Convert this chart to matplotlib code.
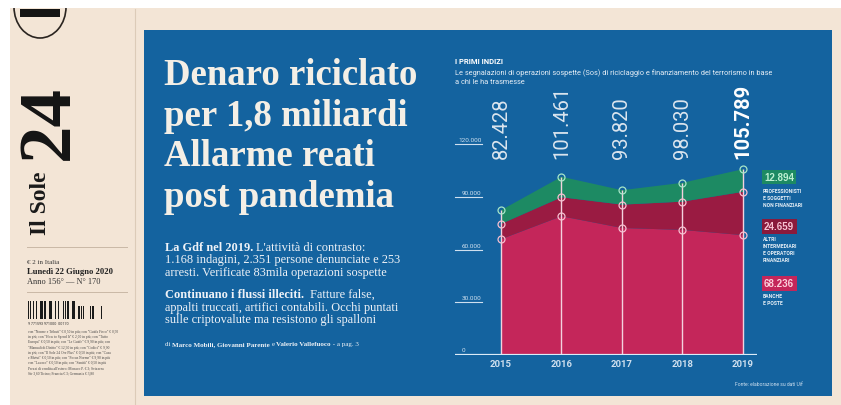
import matplotlib
matplotlib.use("Agg")
import matplotlib.pyplot as plt
from matplotlib.patches import Rectangle, Ellipse

# ---------------- data ----------------
years = [2015, 2016, 2017, 2018, 2019]
banche = [65900, 79000, 72300, 71200, 68236]
altri = [8700, 10800, 13300, 16100, 24659]
professionisti = [7828, 11661, 8220, 10730, 12894]
total_labels = ["82.428", "101.461", "93.820", "98.030", "105.789"]
yticks = [0, 30000, 60000, 90000, 120000]
ytick_labels = ["0", "30.000", "60.000", "90.000", "120.000"]
legend_values = ["12.894", "24.659", "68.236"]
legend_names = ["PROFESSIONISTI\nE SOGGETTI\nNON FINANZIARI",
                "ALTRI\nINTERMEDIARI\nE OPERATORI\nFINANZIARI",
                "BANCHE\nE POSTE"]

W, H = 841, 406
fig = plt.figure(figsize=(W / 100, H / 100), dpi=100)
fig.patch.set_facecolor("white")


def P(x, y):
    return (x / W, 1 - y / H)


def rect(x0, y0, x1, y1, **kw):
    fig.patches.append(Rectangle(P(x0, y1), (x1 - x0) / W, (y1 - y0) / H,
                                 transform=fig.transFigure, lw=0, **kw))


def line(x0, y0, x1, y1, **kw):
    fig.add_artist(plt.Line2D([x0 / W, x1 / W], [1 - y0 / H, 1 - y1 / H],
                              transform=fig.transFigure, **kw))


def txt(x, y, s, **kw):
    return fig.text(x / W, 1 - y / H, s, **kw)


BEIGE = "#f3e5d6"
BLUE = "#14639f"
SERIF = ["Liberation Serif", "DejaVu Serif"]
SANS = ["Roboto", "DejaVu Sans"]

# page
rect(10, 9, 841, 406, color=BEIGE, zorder=0)
line(135, 10, 135, 406, color="#dccbb8", lw=0.8)
rect(144, 31, 832, 397, color=BLUE, zorder=1)

# masthead (rotated)
txt(40, 203, "Il Sole", rotation=90, ha="center", va="center",
    family=SERIF, weight="bold", fontsize=17, color="#1a1a1a")
txt(50, 123, "24", rotation=90, ha="center", va="center",
    family=SERIF, weight="bold", fontsize=54, color="#141414")
fig.patches.append(Ellipse(P(40, 8), 52 / W, 62 / H, transform=fig.transFigure,
                           fill=False, ec="#2a2420", lw=1.2, zorder=2))
rect(20, 10, 60, 18, color="#141414", zorder=2)
rect(0, 0, 841, 9, color="white", zorder=3)
rect(0, 0, 10, 406, color="white", zorder=3)

line(27, 248, 127, 248, color="#c9b8a6", lw=0.7)
txt(27, 262, "€ 2 in Italia", family=SERIF, fontsize=5, color="#333", va="center")
txt(27, 272, "Lunedì 22 Giugno 2020", family=SERIF, weight="bold", fontsize=6.2,
    color="#222", va="center")
txt(27, 282, "Anno 156° — N° 170", family=SERIF, fontsize=6, color="#333", va="center")
line(27, 293, 127, 293, color="#c9b8a6", lw=0.7)

barcode = "1011001110100101110011010011101001011100110101101101001110"
x = 28.0
for b in barcode:
    if b == "1":
        rect(x, 302, x + 0.6, 320, color="#1a1a1a", zorder=2)
    x += 0.82
barcode2 = "1101011011010110101101"
x = 78.0
for b in barcode2:
    if b == "1":
        rect(x, 307, x + 0.6, 320, color="#1a1a1a", zorder=2)
    x += 1.1
txt(28, 324, "9 771593 971000  00170", fontsize=2.6, family=SANS, color="#333", va="center")
small_lines = ["con \"Norme e Tributi\" € 0,50 in più; con \"Guida Fisco\" € 0,50",
               "in più; con \"How to Spend It\" € 2,00 in più; con \"Tutto",
               "Europa\" € 0,50 in più; con \"Le Guide\" € 9,90 in più; con",
               "\"Manuali di Diritto\" € 12,90 in più; con \"Codici\" € 9,90",
               "in più; con \"Il Sole 24 Ore Plus\" € 0,50 in più; con \"Casa",
               "e Mutui\" € 0,50 in più; con \"Focus Norme\" € 9,90 in più",
               "con \"Lavoro\" € 0,50 in più; con \"Sanità\" € 0,50 in più",
               "Prezzi di vendita all'estero: Monaco P. € 3; Svizzera",
               "Sfr 3,60 Ticino; Francia € 3; Germania € 3,80"]
for i, s in enumerate(small_lines):
    txt(28, 332 + i * 5.2, s, fontsize=2.6, family=SERIF, color="#444", va="center")

# headline
for i, s in enumerate(["Denaro riciclato", "per 1,8 miliardi", "Allarme reati", "post pandemia"]):
    txt(164, 85 + i * 40.7, s, family=SERIF, weight="bold", fontsize=26.5,
        color="#f4efe6", va="baseline", zorder=5)

fig.canvas.draw()
renderer = fig.canvas.get_renderer()


def rich(x, y, parts, size, family=SERIF):
    cx = x
    for s, bold in parts:
        t = txt(cx, y, s, family=family, fontsize=size,
                weight="bold" if bold else "normal", color="#eef2f7",
                va="center", zorder=5)
        bb = t.get_window_extent(renderer)
        cx += bb.width


body_size = 8.9
rich(165, 248, [("La Gdf nel 2019. ", True), ("L'attività di contrasto:", False)], body_size)
rich(165, 260.5, [("1.168 indagini, 2.351 persone denunciate e 253", False)], body_size)
rich(165, 273, [("arresti. Verificate 83mila operazioni sospette", False)], body_size)
rich(165, 295, [("Continuano i flussi illeciti. ", True), (" Fatture false,", False)], body_size)
rich(165, 307.5, [("appalti truccati, artifici contabili. Occhi puntati", False)], body_size)
rich(165, 320, [("sulle criptovalute ma resistono gli spalloni", False)], body_size)
rich(165, 345, [("di ", False), ("Marco Mobili, Giovanni Parente ", True), ("e ", False),
                ("Valerio Vallefuoco", True), (" - a pag. 3", False)], 5.0)

# chart titles
txt(455, 62, "I PRIMI INDIZI", family=SANS, weight="bold", fontsize=5.5,
    color="white", va="center", zorder=5)
txt(455, 73, "Le segnalazioni di operazioni sospette (Sos) di riciclaggio e finanziamento del terrorismo in base",
    family=SANS, fontsize=5.3, color="#e6eef6", va="center", zorder=5)
txt(455, 83, "a chi le ha trasmesse", family=SANS, fontsize=5.3, color="#e6eef6",
    va="center", zorder=5)

# ---------------- chart ----------------
x_left, x_right, y_base = 455, 757, 356
px_per_unit = 52.7 / 30000
ymax = 130000
ax_h = ymax * px_per_unit
ax = fig.add_axes([x_left / W, 1 - y_base / H, (x_right - x_left) / W, ax_h / H], zorder=4)
ax.set_facecolor("none")
ax.axis("off")
ppy = (743 - 501) / 4
ax.set_xlim(2015 - (501 - x_left) / ppy, 2019 + (x_right - 743) / ppy)
ax.set_ylim(0, ymax)

C_BANCHE = "#c4265a"
C_ALTRI = "#9a1b42"
C_PROF = "#1d8a63"
ax.stackplot(years, banche, altri, professionisti,
             colors=[C_BANCHE, C_ALTRI, C_PROF], lw=0)

lvl1 = banche
lvl2 = [a + b for a, b in zip(banche, altri)]
lvl3 = [a + b + c for a, b, c in zip(banche, altri, professionisti)]
ax.vlines(years, 0, lvl3, color="#f3d2de", lw=1.0, zorder=3)
ax.plot(years, lvl1, "o", ms=5, mfc="none", mec="#f6bfd0", mew=0.9, zorder=4)
ax.plot(years, lvl2, "o", ms=5, mfc="none", mec="#f6bfd0", mew=0.9, zorder=4)
ax.plot(years, lvl3, "o", ms=5, mfc="none", mec="#a6e6c8", mew=0.9, zorder=4)
ax.axhline(0, color="#dcebf7", lw=1.6, zorder=5)

x_lab_r = ax.get_xlim()[0] + (482 - x_left) / ppy
x_lab_l = ax.get_xlim()[0]
for v, lab in zip(yticks, ytick_labels):
    if v == 0:
        ax.text(ax.get_xlim()[0] + (463.5 - x_left) / ppy, 1800, lab, ha="center", va="bottom",
                fontsize=4.6, family=SANS, color="#cfe0ef", clip_on=False)
        continue
    ax.text(x_lab_r - 0.01, v + 1100, lab, ha="right", va="bottom",
            fontsize=4.6, family=SANS, color="#cfe0ef", clip_on=False)
    ax.plot([x_lab_l, x_lab_r], [v, v], color="#cfe0ef", lw=0.8, clip_on=False)

for yr, lab in zip(years, total_labels):
    bold = lab == total_labels[-1]
    ax.text(yr, 112000, lab, rotation=90, ha="center", va="bottom",
            fontsize=14.5, family=SANS, weight="bold" if bold else "normal",
            color="white" if bold else "#dbe5ee", clip_on=False)
    ax.text(yr, -5100, str(yr), ha="center", va="center", fontsize=6.8,
            family=SANS, weight="bold", color="#cfe0ef", clip_on=False)

# legend
for (val, name, fc, tc, yb, yn) in [
        (legend_values[0], legend_names[0], C_PROF, "#bdf0d2", 178, 192),
        (legend_values[1], legend_names[1], "#8a1a3c", "#f8c3d3", 227.5, 240),
        (legend_values[2], legend_names[2], C_BANCHE, "#fbd0dc", 284.5, 297)]:
    txt(764, yb, val, family=["Liberation Sans", "DejaVu Sans"], weight="bold",
        fontsize=7, color=tc, va="center", zorder=6,
        bbox=dict(boxstyle="square,pad=0.25", fc=fc, ec="none"))
    txt(763, yn - 2.5, name, family=SANS, weight="bold", fontsize=3.6,
        color="#e8f0f7", va="top", linespacing=1.45, zorder=6)

txt(735, 385, "Fonte: elaborazione su dati Uif", family=SANS, fontsize=3.6,
    color="#cfe0ef", va="center", zorder=6)

fig.savefig("out.png", dpi=100, facecolor=fig.get_facecolor())
